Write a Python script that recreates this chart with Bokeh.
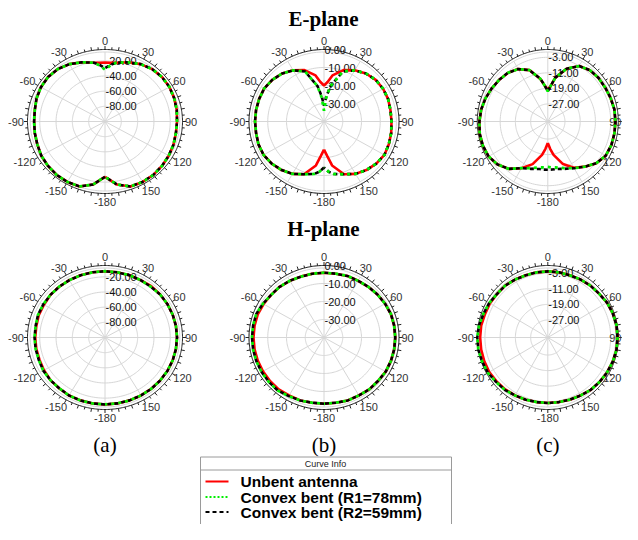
import numpy as np
from bokeh.plotting import figure
from bokeh.models import Range1d
from bokeh.core.properties import value
from bokeh.embed import file_html
from bokeh.resources import INLINE

# ---------------- data (dB) ----------------
ANG_E = [-180, -175, -170, -160, -150, -140, -130, -120, -110, -100, -90, -80, -70, -60, -50, -40, -30,
         -20, -10, -5, 0, 5, 10, 20, 30, 40, 50, 60, 70, 80, 90, 100, 110, 120, 130, 140, 150, 160,
         170, 175, 180]
ANG_H = [-180, -170, -160, -150, -140, -130, -120, -110, -100, -90, -80, -70, -60, -50, -40, -30, -20,
         -10, 0, 10, 20, 30, 40, 50, 60, 70, 80, 90, 100, 110, 120, 130, 140, 150, 160, 170, 180]

# (a) E-plane
A_E_UNBENT = [-26.9, -22.1, -15.5, -8.8, -7.9, -7.9, -8.8, -9.8, -11.7, -12.6, -13.1, -12.6, -10.7, -9.3,
              -8.8, -9.8, -12.6, -16.9, -21.2, -22.1, -22.1, -22.1, -21.2, -16.9, -12.6, -9.8, -8.8, -8.8,
              -9.8, -10.7, -11.7, -11.7, -10.7, -9.8, -8.8, -7.9, -7.9, -8.8, -15.5, -22.1, -26.9]
A_E_R1 = [-26.9, -22.1, -15.5, -8.8, -7.9, -7.9, -8.8, -9.8, -11.7, -12.6, -13.1, -12.6, -10.7, -9.3,
          -8.8, -9.8, -12.6, -16.9, -21.2, -25.9, -31.6, -25.9, -21.2, -16.9, -12.6, -9.8, -8.8, -8.8,
          -9.8, -10.7, -11.7, -11.7, -10.7, -9.8, -8.8, -7.9, -7.9, -8.8, -15.5, -22.1, -26.9]
A_E_R2 = [-26.9, -22.1, -15.5, -8.8, -7.9, -7.9, -8.8, -9.8, -11.7, -12.6, -13.1, -12.6, -10.7, -9.3,
          -8.8, -9.8, -12.6, -16.9, -21.2, -25.0, -29.7, -25.0, -21.2, -16.9, -12.6, -9.8, -8.8, -8.8,
          -9.8, -10.7, -11.7, -11.7, -10.7, -9.8, -8.8, -7.9, -7.9, -8.8, -15.5, -22.1, -26.9]
# (b) E-plane
B_E_UNBENT = [-24.4, -20.8, -15.2, -8.8, -6.4, -4.8, -3.6, -2.8, -2.8, -3.2, -3.2, -3.2, -3.2, -3.2,
              -4.0, -5.2, -7.2, -9.6, -14.0, -18.0, -20.0, -18.0, -14.0, -9.6, -7.2, -5.2, -4.0, -3.6,
              -3.6, -4.0, -4.0, -3.6, -3.2, -2.8, -3.6, -4.8, -6.4, -8.8, -15.2, -20.8, -24.4]
B_E_R1 = [-14.4, -12.0, -10.4, -8.8, -6.4, -4.8, -3.6, -2.8, -2.8, -3.2, -3.2, -3.2, -3.2, -3.2,
          -4.0, -5.2, -7.2, -10.4, -20.0, -26.8, -34.0, -26.8, -20.0, -10.4, -7.2, -5.2, -4.0, -3.6,
          -3.6, -4.0, -4.0, -3.6, -3.2, -2.8, -3.6, -4.8, -6.4, -8.8, -10.4, -12.0, -14.4]
B_E_R2 = [-14.4, -12.0, -10.4, -8.8, -6.4, -4.8, -3.6, -2.8, -2.8, -3.2, -3.2, -3.2, -3.2, -3.2,
          -4.0, -5.2, -7.2, -10.4, -20.0, -26.0, -31.2, -26.0, -20.0, -10.4, -7.2, -5.2, -4.0, -3.6,
          -3.6, -4.0, -4.0, -3.6, -3.2, -2.8, -3.6, -4.8, -6.4, -8.8, -10.4, -12.0, -14.4]
# (c) E-plane
C_E_UNBENT = [-24.9, -21.9, -18.6, -12.7, -8.3, -4.2, -1.6, -0.1, 0.3, 0.3, -0.1, -0.5, -1.2, -2.0,
              -2.7, -3.4, -4.9, -7.9, -13.8, -17.5, -19.7, -17.5, -13.1, -7.1, -3.1, -1.6, -1.2, -1.2,
              -0.9, -0.5, -0.5, -0.5, -0.5, -0.9, -2.7, -5.7, -8.6, -12.7, -18.6, -21.9, -24.9]
C_E_R1 = [-12.7, -12.3, -12.0, -10.5, -8.3, -4.2, -1.6, -0.1, 0.3, 0.3, -0.1, -0.5, -1.2, -2.0,
          -2.7, -3.4, -4.9, -7.9, -13.8, -17.5, -20.5, -17.5, -13.1, -7.1, -3.1, -1.6, -1.2, -1.2,
          -0.9, -0.5, -0.5, -0.5, -0.5, -0.9, -2.7, -5.7, -8.3, -10.5, -12.0, -12.3, -12.7]
C_E_R2 = [-11.2, -11.2, -11.2, -10.1, -8.3, -4.2, -1.6, -0.1, 0.3, 0.3, -0.1, -0.5, -1.2, -2.0,
          -2.7, -3.4, -4.9, -7.9, -13.8, -17.5, -20.5, -17.5, -13.1, -7.1, -3.1, -1.6, -1.2, -1.2,
          -0.9, -0.5, -0.5, -0.5, -0.5, -0.9, -2.7, -5.7, -8.3, -10.1, -11.2, -11.2, -11.2]

# (a) H-plane
A_H_UNBENT = [-11.7, -11.7, -11.7, -11.7, -12.6, -12.6, -13.6, -14.5, -14.5, -14.5, -14.5, -13.6, -13.6,
              -12.6, -12.6, -12.6, -12.6, -12.6, -12.6, -12.6, -12.6, -12.6, -11.7, -11.7, -11.7, -11.7,
              -11.7, -11.7, -11.7, -11.7, -11.7, -11.7, -11.7, -11.7, -11.7, -11.7, -11.7]
A_H_R1 = [-11.7, -11.7, -11.7, -11.7, -12.6, -12.6, -12.6, -13.6, -13.6, -13.6, -13.6, -12.6, -12.6,
          -12.6, -12.6, -12.6, -12.6, -12.6, -12.6, -12.6, -12.6, -12.6, -12.6, -11.7, -11.7, -11.7,
          -11.7, -11.7, -11.7, -11.7, -11.7, -11.7, -11.7, -11.7, -11.7, -11.7, -11.7]
A_H_R2 = [-11.7, -11.7, -11.7, -11.7, -12.6, -12.6, -12.6, -13.6, -13.6, -13.6, -13.6, -12.6, -12.6,
          -12.6, -12.6, -12.6, -12.6, -12.6, -12.6, -12.6, -12.6, -12.6, -12.6, -11.7, -11.7, -11.7,
          -11.7, -11.7, -11.7, -11.7, -11.7, -11.7, -11.7, -11.7, -11.7, -11.7, -11.7]
# (b) H-plane
B_H_UNBENT = [-3.2, -3.2, -2.8, -2.8, -2.4, -2.4, -2.4, -2.4, -2.4, -2.4, -2.4, -2.4, -2.8, -3.2,
              -3.2, -3.6, -4.0, -4.0, -4.0, -4.0, -3.6, -3.6, -3.2, -2.8, -2.4, -2.0, -2.0, -2.0,
              -2.0, -2.0, -2.0, -2.4, -2.4, -2.8, -2.8, -3.2, -3.2]
B_H_R1 = [-3.2, -3.2, -2.8, -2.4, -1.6, -1.6, -1.6, -1.6, -1.6, -1.6, -1.6, -1.6, -2.4, -3.2,
          -3.2, -3.6, -4.0, -4.0, -4.0, -4.0, -3.6, -3.6, -3.2, -2.8, -2.4, -2.0, -2.0, -2.0,
          -2.0, -2.0, -2.0, -2.4, -2.4, -2.8, -2.8, -3.2, -3.2]
B_H_R2 = [-3.2, -3.2, -2.8, -2.4, -1.6, -1.6, -1.6, -1.6, -1.6, -1.6, -1.6, -1.6, -2.4, -3.2,
          -3.2, -3.6, -4.0, -4.0, -4.0, -4.0, -3.6, -3.6, -3.2, -2.8, -2.4, -2.0, -2.0, -2.0,
          -2.0, -2.0, -2.0, -2.4, -2.4, -2.8, -2.8, -3.2, -3.2]
# (c) H-plane
C_H_UNBENT = [-2.3, -2.3, -2.0, -1.6, -1.2, -0.9, -0.5, -0.5, -0.5, -0.5, -0.5, -0.9, -0.9, -1.2,
              -1.2, -1.6, -2.0, -2.0, -2.0, -2.0, -2.0, -1.6, -1.2, -0.9, -0.1, 0.3, 0.6, 0.6,
              0.6, 0.3, -0.1, -0.5, -0.9, -1.6, -2.0, -2.3, -2.3]
C_H_R1 = [-2.3, -2.3, -2.0, -1.6, -0.9, -0.5, 0.3, 0.6, 1.0, 1.0, 0.6, -0.1, -0.5, -1.2,
          -1.2, -1.6, -2.0, -2.0, -2.0, -2.0, -2.0, -1.6, -1.2, -0.9, -0.1, 0.3, 0.6, 0.6,
          0.6, 0.3, -0.1, -0.5, -0.9, -1.6, -2.0, -2.3, -2.3]
C_H_R2 = [-2.3, -2.3, -2.0, -1.6, -0.9, -0.5, 0.3, 0.6, 1.0, 1.0, 0.6, -0.1, -0.5, -1.2,
          -1.2, -1.6, -2.0, -2.0, -2.0, -2.0, -2.0, -1.6, -1.2, -0.9, -0.1, 0.3, 0.6, 0.6,
          0.6, 0.3, -0.1, -0.5, -0.9, -1.6, -2.0, -2.3, -2.3]

# radial scales and tick labels
A_RTICKS = [-80, -60, -40, -20]
A_RLABELS = ["-80.00", "-60.00", "-40.00", "-20.00"]
B_RTICKS = [-30, -20, -10, 0]
B_RLABELS = ["-30.00", "-20.00", "-10.00", "0.00"]
C_RTICKS = [-27, -19, -11, -3]
C_RLABELS = ["-27.00", "-19.00", "-11.00", "-3.00"]

ANGLE_TICKS = [0, 30, 60, 90, 120, 150, 180, -150, -120, -90, -60, -30]
ANGLE_LABELS = ["0", "30", "60", "90", "120", "150", "-180", "-150", "-120", "-90", "-60", "-30"]

SERIES_NAMES = ["Unbent antenna", "Convex bent (R1=78mm)", "Convex bent (R2=59mm)"]
PANEL_LABELS = ["(a)", "(b)", "(c)"]

# ---------------- layout ----------------
RED, GREEN, BLACK = "#ff0000", "#00ee00", "#000000"
GRID = "#d6d6d6"
SANS = value("Liberation Sans")
SERIF = value("Liberation Serif")
W, H = 622, 524

p = figure(width=W, height=H, x_range=Range1d(0, W), y_range=Range1d(H, 0),
           output_backend="svg", toolbar_location=None, x_axis_type=None, y_axis_type=None,
           min_border=0, outline_line_color=None)
p.grid.visible = False
p.background_fill_color = "white"

# rx, ry: radius of the black tick ring (pixels); vmin at centre, vmax at ring
PANELS = [
    dict(cx=104.5, rx=77.5, ry=72.0, vmin=-100.0, vmax=-5.0, rt=A_RTICKS, rl=A_RLABELS,
         E=(A_E_UNBENT, A_E_R1, A_E_R2), H=(A_H_UNBENT, A_H_R1, A_H_R2)),
    dict(cx=323.5, rx=75.0, ry=72.0, vmin=-40.0, vmax=0.0, rt=B_RTICKS, rl=B_RLABELS,
         E=(B_E_UNBENT, B_E_R1, B_E_R2), H=(B_H_UNBENT, B_H_R1, B_H_R2)),
    dict(cx=547.3, rx=70.5, ry=72.0, vmin=-36.0, vmax=1.0, rt=C_RTICKS, rl=C_RLABELS,
         E=(C_E_UNBENT, C_E_R1, C_E_R2), H=(C_H_UNBENT, C_H_R1, C_H_R2)),
]
ROW_CY = {"E": 121.0, "H": 337.0}


def to_xy(P, cy, ang, db):
    t = np.radians(np.asarray(ang, float))
    r = (np.asarray(db, float) - P["vmin"]) / (P["vmax"] - P["vmin"])
    return P["cx"] + P["rx"] * r * np.sin(t), cy - P["ry"] * r * np.cos(t)


def ellipse_pts(cx, cy, rx, ry, n=181):
    t = np.linspace(0, 2 * np.pi, n)
    return cx + rx * np.sin(t), cy - ry * np.cos(t)


for P in PANELS:
    for row, cy in ROW_CY.items():
        cx, rx, ry = P["cx"], P["rx"], P["ry"]
        # grid circles
        fr = [(v - P["vmin"]) / (P["vmax"] - P["vmin"]) for v in P["rt"]] + [1.0 - 2.5 / ry]
        xs, ys = [], []
        for f in fr:
            ex, ey = ellipse_pts(cx, cy, rx * f, ry * f)
            xs.append(list(ex)); ys.append(list(ey))
        p.multi_line(xs, ys, line_color=GRID, line_width=1)
        # radial lines
        xs, ys = [], []
        for a in range(0, 360, 30):
            t = np.radians(a)
            xs.append([cx, cx + (rx - 2.5) * np.sin(t)]); ys.append([cy, cy - (ry - 2.5) * np.cos(t)])
        p.multi_line(xs, ys, line_color=GRID, line_width=1)
        # outer black ring with ticks
        ex, ey = ellipse_pts(cx, cy, rx, ry, 361)
        p.line(ex, ey, line_color="#222222", line_width=1)
        xs, ys = [], []
        for a in range(0, 360, 5):
            t = np.radians(a)
            L = 3.5 if a % 10 == 0 else 2.5
            xs.append([cx + rx * np.sin(t), cx + (rx + L) * np.sin(t)])
            ys.append([cy - ry * np.cos(t), cy - (ry + L) * np.cos(t)])
        p.multi_line(xs, ys, line_color="#222222", line_width=1)
        # angle labels
        lx, ly = [], []
        for a, lab in zip(ANGLE_TICKS, ANGLE_LABELS):
            t = np.radians(a)
            s = np.sin(t)
            sg = 0 if abs(s) < 1e-6 else np.sign(s)
            x = cx + (rx + 8.5) * s + sg * max(0, len(lab) - 2) * 3
            half = 3.1 * len(lab)
            x = min(x, W - 1 - half)
            lx.append(x)
            ly.append(cy - (ry + 8.5) * np.cos(t))
        p.text(lx, ly, text=ANGLE_LABELS, text_font=SANS, text_font_size="11px",
               text_color="#333333", text_align="center", text_baseline="middle")
        # radial labels
        fy = [cy - ry * (v - P["vmin"]) / (P["vmax"] - P["vmin"]) for v in P["rt"]]
        p.text([cx + 0.5] * len(fy), fy, text=P["rl"], text_font=SANS, text_font_size="11px",
               text_color="#111111", text_align="left", text_baseline="middle")
        # curves
        ang = ANG_E if row == "E" else ANG_H
        d0, d1, d2 = P[row]
        x, y = to_xy(P, cy, ang, d0)
        p.line(x, y, line_color=RED, line_width=2.6)
        x, y = to_xy(P, cy, ang, d2)
        p.line(x, y, line_color=BLACK, line_width=2.6, line_dash="4 3")
        x, y = to_xy(P, cy, ang, d1)
        p.line(x, y, line_color=GREEN, line_width=2.8, line_dash="3 4", line_dash_offset=3)

# titles and panel letters
p.text([323], [18.5], text=["E-plane"], text_font=SERIF, text_font_size="21px", text_font_style="bold",
       text_align="center", text_baseline="middle", text_color="black")
p.text([323], [228.5], text=["H-plane"], text_font=SERIF, text_font_size="21px", text_font_style="bold",
       text_align="center", text_baseline="middle", text_color="black")
p.text([104.5, 323.5, 547.3], [444, 444, 444], text=PANEL_LABELS, text_font=SERIF,
       text_font_size="21px", text_align="center", text_baseline="middle", text_color="black")

# legend box ("Curve Info")
p.quad(left=[200], right=[451], top=[456.5], bottom=[535], fill_color="white",
       line_color="#9a9a9a", line_width=1)
p.line([200, 451], [469.5, 469.5], line_color="#9a9a9a", line_width=1)
p.text([325], [463], text=["Curve Info"], text_font=SANS, text_font_size="9px",
       text_align="center", text_baseline="middle", text_color="#222222")
ROW_Y = [481, 496.5, 511.5]
p.line([205, 228], [ROW_Y[0]] * 2, line_color=RED, line_width=2)
p.line([205, 228], [ROW_Y[1]] * 2, line_color=GREEN, line_width=2, line_dash="2 2")
p.line([205, 228], [ROW_Y[2]] * 2, line_color=BLACK, line_width=2, line_dash="4 3")
p.text([240] * 3, ROW_Y, text=SERIES_NAMES, text_font=SANS, text_font_size="15.5px",
       text_font_style="bold", text_align="left", text_baseline="middle", text_color="black")

open("out.html", "w").write(file_html(p, INLINE))
